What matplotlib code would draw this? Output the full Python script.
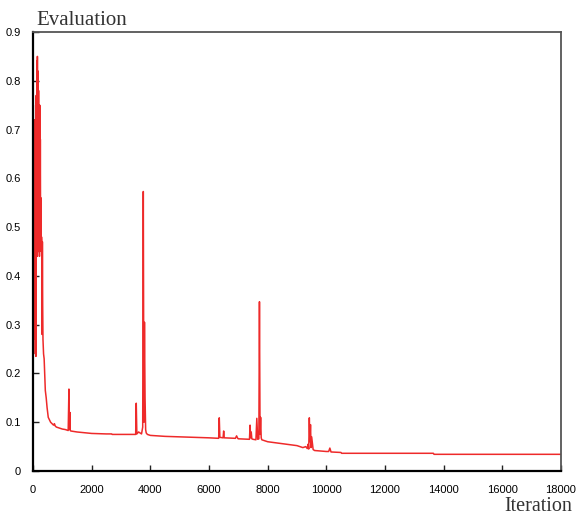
import matplotlib
matplotlib.use('Agg')
import matplotlib.pyplot as plt
import numpy as np

# evaluation history, one row of iterations per row of values
iterations = [
    0, 10, 20, 30, 40, 50, 60, 70, 80, 90,
    100, 110, 120, 130, 140, 150, 160, 170, 180, 190,
    200, 210, 220, 230, 240, 250, 260, 270, 280, 290,
    300, 310, 320, 330, 340, 360, 380, 400, 420, 450,
    480, 520, 560, 600, 700, 730, 760, 800, 900, 1000,
    1100, 1200, 1225, 1240, 1260, 1270, 1290, 1500, 2000, 2500,
    2680, 2700, 3000, 3400, 3500, 3520, 3540, 3600, 3700, 3740,
    3760, 3780, 3800, 3820, 3840, 3860, 3900, 4000, 4500, 5000,
    5500, 6000, 6330, 6350, 6370, 6480, 6500, 6520, 6900, 6940,
    6980, 7000, 7380, 7400, 7420, 7440, 7460, 7500, 7600, 7630,
    7660, 7700, 7720, 7740, 7760, 7780, 7800, 8000, 8500, 9000,
    9200, 9300, 9350, 9380, 9400, 9420, 9440, 9460, 9480, 9500,
    9550, 9600, 10000, 10080, 10120, 10160, 10500, 10520, 13650, 13670,
    18000,
]
evaluation = [
    0.47, 0.75, 0.36, 0.66, 0.28, 0.72, 0.27, 0.55, 0.24, 0.62,
    0.235, 0.77, 0.45, 0.84, 0.44, 0.85, 0.46, 0.82, 0.45, 0.78,
    0.46, 0.75, 0.44, 0.75, 0.47, 0.68, 0.46, 0.56, 0.45, 0.48,
    0.47, 0.28, 0.47, 0.34, 0.27, 0.24, 0.23, 0.20, 0.165, 0.15,
    0.13, 0.11, 0.105, 0.10, 0.094, 0.097, 0.092, 0.090, 0.088, 0.086,
    0.085, 0.083, 0.168, 0.085, 0.12, 0.083, 0.082, 0.080, 0.077, 0.076,
    0.076, 0.075, 0.075, 0.075, 0.075, 0.139, 0.076, 0.080, 0.076, 0.09,
    0.573, 0.10, 0.305, 0.15, 0.085, 0.078, 0.075, 0.073, 0.071, 0.070,
    0.069, 0.068, 0.067, 0.109, 0.069, 0.068, 0.082, 0.068, 0.067, 0.072,
    0.067, 0.066, 0.065, 0.094, 0.068, 0.080, 0.066, 0.065, 0.064, 0.108,
    0.065, 0.066, 0.347, 0.075, 0.110, 0.068, 0.064, 0.060, 0.056, 0.052,
    0.048, 0.050, 0.046, 0.055, 0.045, 0.109, 0.060, 0.095, 0.048, 0.070,
    0.044, 0.042, 0.040, 0.040, 0.047, 0.039, 0.038, 0.0363, 0.0363, 0.0342,
    0.0342,
]

fig = plt.figure(figsize=(5.76, 5.15), dpi=100)
ax = fig.add_axes([33 / 576, 1 - 471 / 515, 528 / 576, 439 / 515])

ax.plot(iterations, evaluation, color='#ee2a2a', lw=1.1)

ax.set_xlim(0, 18000)
ax.set_ylim(0, 0.9)
ax.set_xticks(np.arange(0, 18001, 2000))
ax.set_yticks([0, 0.1, 0.2, 0.3, 0.4, 0.5, 0.6, 0.7, 0.8, 0.9])
ax.set_yticklabels(['0', '0.1', '0.2', '0.3', '0.4', '0.5', '0.6', '0.7', '0.8', '0.9'])
ax.tick_params(direction='in', length=4, width=1, color='#222222',
               labelsize=8, labelcolor='black', pad=9)
ax.tick_params(axis='x', pad=10)
for lbl in ax.get_xticklabels() + ax.get_yticklabels():
    lbl.set_family('Liberation Sans')

ax.spines['left'].set_linewidth(1.6)
ax.spines['bottom'].set_linewidth(1.6)
ax.spines['left'].set_color('black')
ax.spines['bottom'].set_color('black')
for side in ('top', 'right'):
    ax.spines[side].set_color('#555555')
    ax.spines[side].set_linewidth(1.3)

fig.text(36 / 576, 1 - 25 / 515, 'Evaluation', family='Liberation Serif',
         fontsize=15, color='#333333', va='baseline', ha='left')
fig.text(572 / 576, 1 - 511 / 515, 'Iteration', family='Liberation Serif',
         fontsize=14.5, color='#333333', va='baseline', ha='right')

fig.savefig('out.png', dpi=100)
